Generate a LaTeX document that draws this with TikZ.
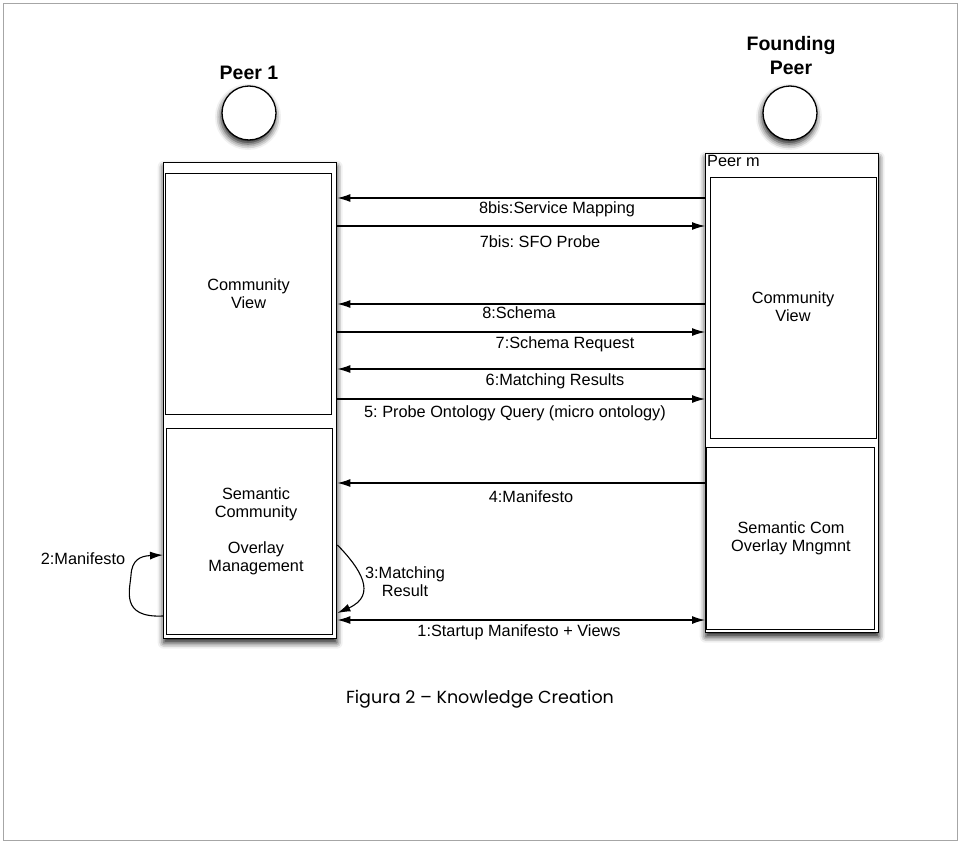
\documentclass[tikz,border=0pt]{standalone}
\usepackage{fontspec}
\setmainfont{Liberation Sans}
\newfontfamily\capfont{Poppins}
\usetikzlibrary{arrows.meta,shadows.blur}
\frenchspacing
\tikzset{
  lbl/.style={font=\fontsize{16.3}{18}\selectfont, align=center, inner sep=0pt},
  title/.style={font=\fontsize{19.5}{24}\selectfont\bfseries, align=center, inner sep=0pt},
  outerbox/.style={draw, line width=1.4pt, fill=white, inner sep=0pt,
     blur shadow={shadow xshift=0pt, shadow yshift=-4pt, shadow blur radius=6pt, shadow opacity=90}},
  innerbox/.style={draw, line width=1.1pt, fill=white, inner sep=0pt},
  peer/.style={draw, circle, line width=1.3pt, fill=white, minimum size=54pt, inner sep=0pt,
     blur shadow={shadow xshift=-1pt, shadow yshift=-4pt, shadow blur radius=6pt, shadow opacity=90}},
  arr/.style={line width=1.1pt, -{Latex[length=13pt,width=8pt]}},
  darr/.style={line width=1.1pt, {Latex[length=13pt,width=8pt]}-{Latex[length=13pt,width=8pt]}}
}
\begin{document}
\begin{tikzpicture}[x=1pt,y=-1pt]
\useasboundingbox (0,0) rectangle (960,843);
\draw[black!35, line width=0.8pt] (3,3) rectangle (957,840);

% peers
\node[peer] (p1) at (249,113) {};
\node[title] (p1t) at (249,73) {Peer 1};
\node[peer] (fp) at (790,113) {};
\node[title] (fpt) at (791,56) {Founding\\Peer};

% left column
\node[outerbox, minimum width=173pt, minimum height=476pt, anchor=north west] (L) at (163,162) {};
\node[innerbox, minimum width=166pt, minimum height=241pt, anchor=north west] (LC) at (165,173) {};
\node[innerbox, minimum width=166pt, minimum height=206pt, anchor=north west] (LS) at (166,428) {};
\node[lbl] at (LC.center) {Community\\View};
\node[lbl] at (256,531) {Semantic\\Community\\[18pt]Overlay\\Management};

% right column
\node[outerbox, minimum width=173pt, minimum height=479pt, anchor=north west] (R) at (705,153) {};
\node[lbl, anchor=north west] (pm) at (707,155) {Peer m};
\node[innerbox, minimum width=166pt, minimum height=261pt, anchor=north west] (RC) at (710,177) {};
\node[innerbox, minimum width=168pt, minimum height=182pt, anchor=north west] (RS) at (706,447) {};
\node[lbl] at (793,307) {Community\\View};
\node[lbl] at (791,538) {Semantic Com\\Overlay Mngmnt};

% levels
\coordinate (y8b) at (0,198);
\coordinate (y7b) at (0,226);
\coordinate (y8) at (0,304);
\coordinate (y7) at (0,332);
\coordinate (y6) at (0,369);
\coordinate (y5) at (0,399);
\coordinate (y4) at (0,483);
\coordinate (y1) at (0,620);

\draw[arr] (R.west |- y8b) -- (L.east |- y8b);
\node[lbl] at (557,209) {8bis:Service Mapping};
\draw[arr] (L.east |- y7b) -- (R.west |- y7b);
\node[lbl] at (540,242) {7bis: SFO Probe};
\draw[arr] (R.west |- y8) -- (L.east |- y8);
\node[lbl] at (519,313) {8:Schema};
\draw[arr] (L.east |- y7) -- (R.west |- y7);
\node[lbl] at (565,344) {7:Schema Request};
\draw[arr] (R.west |- y6) -- (L.east |- y6);
\node[lbl] at (555,381) {6:Matching Results};
\draw[arr] (L.east |- y5) -- (R.west |- y5);
\node[lbl] at (515,413) {5: Probe Ontology Query (micro ontology)};
\draw[arr] (R.west |- y4) -- (L.east |- y4);
\node[lbl] at (531,497) {4:Manifesto};
\draw[darr] (L.east |- y1) -- (R.west |- y1);
\node[lbl] at (519,632) {1:Startup Manifesto + Views};

% self loops
\coordinate (m3a) at (0,545);
\coordinate (m3b) at (0,613);
\draw[arr] (L.east |- m3a) .. controls (360,568) and (378,595) .. (L.east |- m3b);
\node[lbl] at (405,582) {3:Matching\\Result};

\coordinate (m2a) at (0,616);
\coordinate (m2b) at (0,555);
\draw[arr] (L.west |- m2a) .. controls (120,618) and (130,590) .. (131,575)
   .. controls (132,560) and (140,556) .. (L.west |- m2b);
\node[lbl] at (83,559) {2:Manifesto};

\node[font=\capfont\fontsize{17.5}{20}\selectfont, inner sep=0pt] (cap) at (480,699) {Figura 2 – Knowledge Creation};
\end{tikzpicture}
\end{document}
